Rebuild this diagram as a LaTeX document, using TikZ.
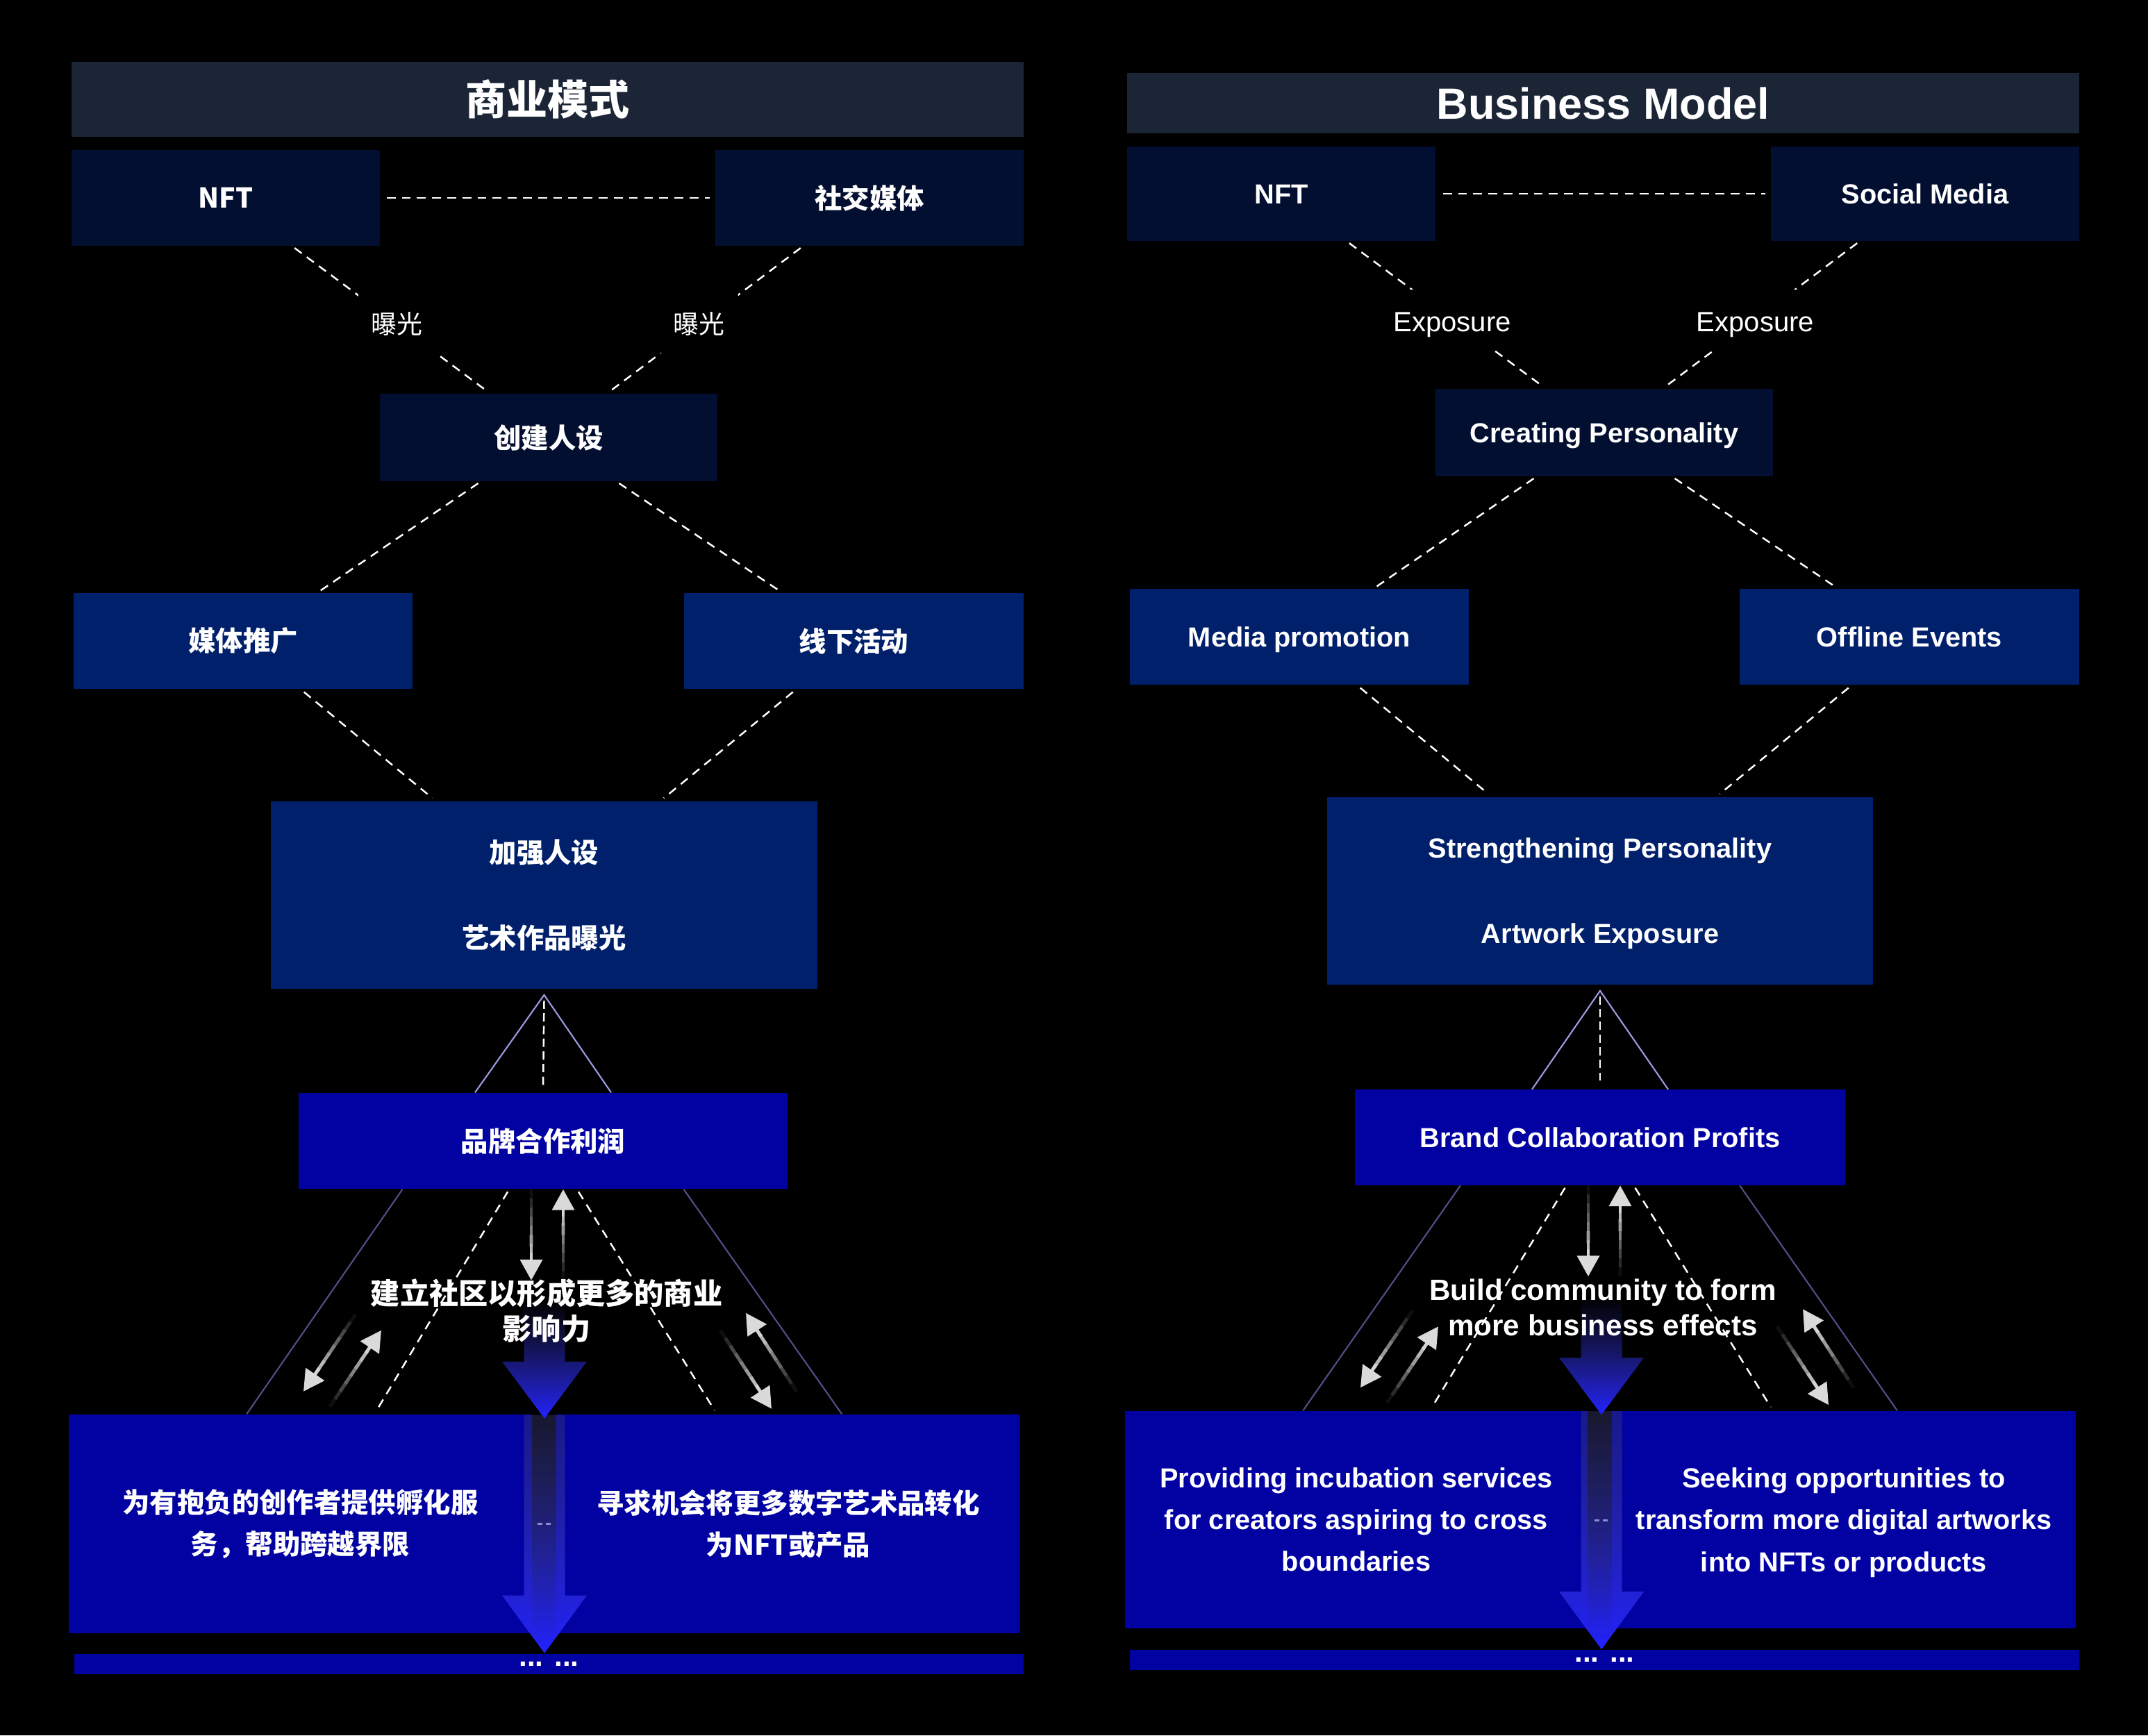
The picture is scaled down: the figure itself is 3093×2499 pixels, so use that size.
\documentclass[tikz,border=0pt]{standalone}
\usepackage{fontspec}
\setmainfont{Liberation Sans}
\newfontfamily\cjk{Noto Sans CJK SC}
\usetikzlibrary{positioning,calc,arrows.meta,fadings}

\definecolor{barcol}{HTML}{1B2536}
\definecolor{navydeep}{HTML}{020F30}
\definecolor{navymid}{HTML}{00206B}
\definecolor{royal}{HTML}{0202A2}
\definecolor{trilight}{HTML}{9C9CE6}
\definecolor{tridark}{HTML}{50508A}
\definecolor{dashmark}{HTML}{8C8CD0}
\definecolor{bluelong}{HTML}{393972}
\definecolor{blueshort}{HTML}{3A3AB4}
\definecolor{bluetip}{HTML}{2222FF}
\definecolor{glowtip}{HTML}{DADADA}

\tikzfading[name=fadeshort, top color=transparent!100, middle color=transparent!0, bottom color=transparent!0]
\tikzfading[name=fadelong, top color=transparent!58, bottom color=transparent!0]

\tikzset{
  panelbox/.style 2 args={text=white, inner sep=0pt, align=center, minimum width=#1, minimum height=#2},
  tonedeep/.style={fill=navydeep},
  tonemid/.style={fill=navymid},
  tonebright/.style={fill=royal},
  zh/.style={font=\cjk\bfseries\fontsize{11.2}{17.1}\selectfont},
  en/.style={font=\bfseries\fontsize{11.3}{17.1}\selectfont},
  oneline/.style={text height=10.2pt, text depth=2.2pt},
  dline/.style={draw=white, line width=0.7pt, dash pattern=on 3.6pt off 2.6pt},
  gapnode/.style={pos=0.53, fill=black, text=white, inner sep=0pt, minimum width=1.12cm, minimum height=0.85cm},
  glow/.style={line width=1.4pt},
}

% shaded arrow, dark at the tail
\newcommand{\glowarrow}[2]{%
  \foreach \k in {0,...,7}{%
    \pgfmathsetmacro{\glowa}{\k/10}%
    \pgfmathsetmacro{\glowb}{(\k+1.3)/10}%
    \pgfmathtruncatemacro{\glowc}{6+11*\k}%
    \draw[glow, draw=white!\glowc!black] ($(#1)!\glowa!(#2)$) -- ($(#1)!\glowb!(#2)$);
  }%
  \draw[glow, draw=glowtip, -{Triangle[length=8.5pt,width=9pt]}] ($(#1)!0.78!(#2)$) -- (#2);%
}

\begin{document}
\begin{tikzpicture}[x=0.01cm, y=-0.01cm]
\fill[black] (0,0) rectangle (3093,2499);
\useasboundingbox (0,0) rectangle (3093,2499);

% Chinese panel
\node[panelbox={13.71cm}{1.08cm}, fill=barcol, font=\cjk\bfseries\fontsize{16.8}{20}\selectfont] (ltitle) at (788.5,143) {商业模式};
\node[panelbox={4.44cm}{1.38cm}, tonedeep, zh] (lnft) at (325,285) {NFT};
\node[panelbox={4.44cm}{1.38cm}, tonedeep, zh] (lsoc) at (1252,285) {社交媒体};
\node[panelbox={4.86cm}{1.26cm}, tonedeep, zh] (lcreate) at (790,630) {创建人设};
\node[panelbox={4.88cm}{1.38cm}, tonemid, zh] (lmedia) at (350,923) {媒体推广};
\node[panelbox={4.89cm}{1.38cm}, tonemid, zh] (loffline) at (1229.5,923) {线下活动};
\node[panelbox={7.86cm}{2.70cm}, tonemid, font=\cjk\bfseries\fontsize{11.2}{35}\selectfont] (lstrong) at (783.5,1289) {加强人设\\艺术作品曝光};
\node[panelbox={7.04cm}{1.38cm}, tonebright, zh] (lbrand) at (782,1643) {品牌合作利润};
\node[panelbox={6.67cm}{3.15cm}, tonebright, zh] (lbl) at (432.5,2194.5) {为有抱负的创作者提供孵化服\\务，帮助跨越界限};
\node[panelbox={6.68cm}{3.15cm}, tonebright, zh] (lbr) at (1135,2194.5) {寻求机会将更多数字艺术品转化\\为NFT或产品};
\node[panelbox={13.67cm}{0.29cm}, tonebright, font=\bfseries\fontsize{12}{12}\selectfont] (lbar) at (790.5,2396.5) {... ...};

\draw[dline, shorten <=0.09cm, shorten >=0.07cm] (lnft) -- (lsoc);
\draw[dline, shorten <=0.04cm, shorten >=0.04cm] (lnft.-36) -- node[gapnode, font=\cjk\fontsize{10.5}{13}\selectfont] (lexpa) {曝光} (lcreate.143);
\draw[dline, shorten <=0.04cm, shorten >=0.04cm] (lsoc.216) -- node[gapnode, font=\cjk\fontsize{10.5}{13}\selectfont] (lexpb) {曝光} (lcreate.37);
\draw[dline, shorten <=0.04cm, shorten >=0.04cm] (lcreate.213) -- (lmedia.33.6);
\draw[dline, shorten <=0.04cm, shorten >=0.04cm] (lcreate.-33) -- (loffline.146);
\draw[dline, shorten <=0.06cm, shorten >=0.06cm] (lmedia.-40.4) -- (lstrong.139.7);
\draw[dline, shorten <=0.06cm, shorten >=0.06cm] (loffline.220) -- (lstrong.39.4);

% English panel
\node[panelbox={13.71cm}{0.87cm}, fill=barcol, font=\bfseries\fontsize{17.9}{20}\selectfont] (rtitle) at (2308.5,148.5) {Business Model};
\node[panelbox={4.44cm}{1.36cm}, tonedeep, en, oneline] (rnft) at (1845,279) {NFT};
\node[panelbox={4.44cm}{1.36cm}, tonedeep, en, oneline] (rsoc) at (2772,279) {Social Media};
\node[panelbox={4.86cm}{1.26cm}, tonedeep, en, oneline] (rcreate) at (2310,623) {Creating Personality};
\node[panelbox={4.88cm}{1.38cm}, tonemid, en, oneline] (rmedia) at (1871,917) {Media promotion};
\node[panelbox={4.89cm}{1.38cm}, tonemid, en, oneline] (roffline) at (2749.5,917) {Offline Events};
\node[panelbox={7.86cm}{2.70cm}, tonemid, font=\bfseries\fontsize{11.3}{35}\selectfont, text depth=-1.6pt] (rstrong) at (2304,1283) {Strengthening Personality\\Artwork Exposure};
\node[panelbox={7.05cm}{1.37cm}, tonebright, en, oneline] (rbrand) at (2304,1638) {Brand Collaboration Profits};
\node[panelbox={6.66cm}{3.13cm}, tonebright, en] (rbl) at (1953,2188.5) {Providing incubation services\\for creators aspiring to cross\\boundaries};
\node[panelbox={6.68cm}{3.13cm}, tonebright, en, text depth=-3.2pt] (rbr) at (2655,2188.5) {Seeking opportunities to\\transform more digital artworks\\into NFTs or products};
\node[panelbox={13.67cm}{0.29cm}, tonebright, font=\bfseries\fontsize{12}{12}\selectfont] (rbar) at (2310.5,2390.5) {... ...};

\draw[dline, shorten <=0.1cm, shorten >=0.07cm] (rnft) -- (rsoc);
\draw[dline, shorten <=0.04cm, shorten >=0.04cm] (rnft.-36) -- node[gapnode, text height=11pt, text depth=1.2pt, font=\fontsize{11.4}{14}\selectfont] (rexpa) {Exposure} (rcreate.143);
\draw[dline, shorten <=0.04cm, shorten >=0.04cm] (rsoc.216) -- node[gapnode, text height=11pt, text depth=1.2pt, font=\fontsize{11.4}{14}\selectfont] (rexpb) {Exposure} (rcreate.37);
\draw[dline, shorten <=0.04cm, shorten >=0.04cm] (rcreate.213) -- (rmedia.33.6);
\draw[dline, shorten <=0.04cm, shorten >=0.04cm] (rcreate.-33) -- (roffline.146);
\draw[dline, shorten <=0.06cm, shorten >=0.06cm] (rmedia.-40.4) -- (rstrong.139.7);
\draw[dline, shorten <=0.06cm, shorten >=0.06cm] (roffline.220) -- (rstrong.39.4);

% shared lower part of both panels
\foreach \p in {l,r}{
  \coordinate (\p apex) at ($(\p strong.south)+(0,8)$);
  \draw[trilight, line width=0.6pt] ($(\p brand.north)+(-98,0)$) -- (\p apex) -- ($(\p brand.north)+(98,0)$);
  \draw[dline, dash pattern=on 3.4pt off 1.8pt] ($(\p apex)+(0,8)$) -- ($(\p brand.north)+(0,-6)$);
  \draw[tridark, line width=0.6pt] (\p brand.199.5) -- (\p bl.116.2);
  \draw[tridark, line width=0.6pt] (\p brand.-19.2) -- (\p br.64.8);
  \draw[dline, shorten <=0.04cm, shorten >=0.06cm] (\p brand.235.2) -- (\p bl.56.4);
  \draw[dline, shorten <=0.04cm, shorten >=0.06cm] (\p brand.-55.2) -- (\p br.123.7);
  \begin{scope}[shift={($(\p brand.south)+(2,0)$)}]
    \shade[top color=bluelong, bottom color=bluetip, path fading=fadelong] (-29.5,325) -- (29.5,325) -- (29.5,585) -- (61,585) -- (0,668) -- (-61,585) -- (-29.5,585) -- cycle;
    \shade[top color=blueshort, bottom color=bluetip, path fading=fadeshort] (-29.5,158) -- (29.5,158) -- (29.5,248) -- (61,248) -- (0,330) -- (-61,248) -- (-29.5,248) -- cycle;
    \draw[dashmark, line width=0.85pt, dash pattern=on 2pt off 1.4pt] (-10,482) -- (9,482);
  \end{scope}
  \coordinate (\p ta) at ($(\p brand.south)+(-270,180)$);
  \coordinate (\p ha) at ($(\p brand.south)+(-345,291)$);
  \coordinate (\p tb) at ($(\p brand.south)+(-307,313)$);
  \coordinate (\p hb) at ($(\p brand.south)+(-233,203)$);
  \coordinate (\p tc) at ($(\p brand.south)+(365,291)$);
  \coordinate (\p hc) at ($(\p brand.south)+(292,178)$);
  \coordinate (\p td) at ($(\p brand.south)+(255,203)$);
  \coordinate (\p hd) at ($(\p brand.south)+(329,316)$);
  \coordinate (\p tdown) at ($(\p brand.south)+(-17,0)$);
  \coordinate (\p hdown) at ($(\p brand.south)+(-17,131)$);
  \coordinate (\p tup) at ($(\p brand.south)+(29,131)$);
  \coordinate (\p hup) at ($(\p brand.south)+(29,0)$);
  \glowarrow{\p ta}{\p ha}
  \glowarrow{\p tb}{\p hb}
  \glowarrow{\p tc}{\p hc}
  \glowarrow{\p td}{\p hd}
  \glowarrow{\p tdown}{\p hdown}
  \glowarrow{\p tup}{\p hup}
}

\node[text=white, inner sep=0pt, align=center, font=\cjk\bfseries\fontsize{12}{14.5}\selectfont] (lcomm) at ($(lbrand.south)+(5,175)$) {建立社区以形成更多的商业\\影响力};
\node[text=white, inner sep=0pt, align=center, font=\bfseries\fontsize{12}{14.5}\selectfont] (rcomm) at ($(rbrand.south)+(4,176)$) {Build community to form\\more business effects};
\end{tikzpicture}
\end{document}
